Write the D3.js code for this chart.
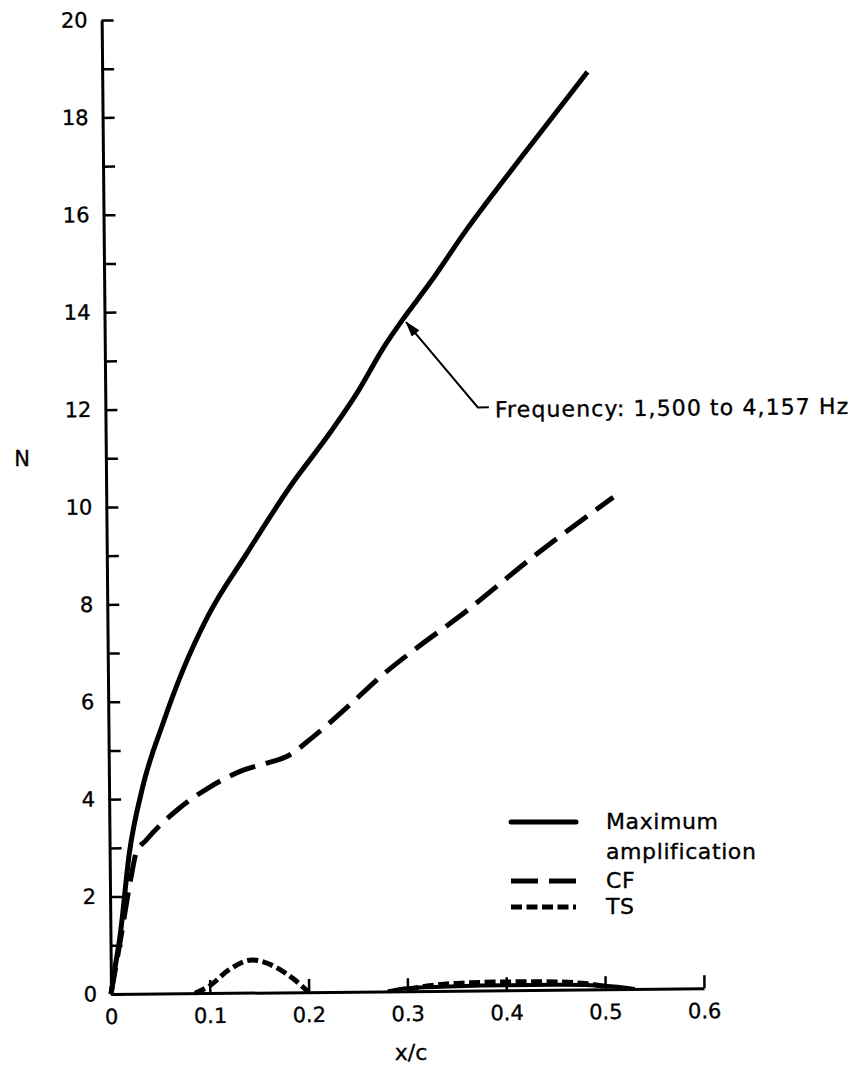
<!DOCTYPE html>
<html>
<head>
<meta charset="utf-8">
<script src="https://cdn.jsdelivr.net/npm/d3@7"></script>
<style>
  body { margin: 0; background: #fff; }
  text { font-family: "DejaVu Sans", sans-serif; fill: #000; stroke: #000; stroke-width: 0.35px; }
</style>
</head>
<body>
<svg id="chart"></svg>
<script>
/* page + plot frame */
const width = 857, height = 1067;
const origin = { x: 111, y: 994 }, plotW = 593, plotH = 974;
const tilt = -0.55; // the scanned figure sits slightly rotated

/* tick values */
const xTicks = [0, 0.1, 0.2, 0.3, 0.4, 0.5, 0.6];
const yTicks = [0, 1, 2, 3, 4, 5, 6, 7, 8, 9, 10, 11, 12, 13, 14, 15, 16, 17, 18, 19, 20];

/* series: [x/c, N] */
const maxAmp = [[0, 0], [0.004, 0.5], [0.0096, 1.17], [0.02, 2.9], [0.034, 4.24], [0.056, 5.59],
  [0.076, 6.64], [0.102, 7.75], [0.142, 9.03], [0.186, 10.38], [0.227, 11.48], [0.255, 12.3],
  [0.283, 13.25], [0.302, 13.8], [0.33, 14.55], [0.367, 15.62], [0.402, 16.55], [0.435, 17.4],
  [0.491, 18.84]];
const cf = [[0, 0], [0.01, 1.1], [0.021, 2.35], [0.027, 2.9], [0.037, 3.15], [0.069, 3.77],
  [0.102, 4.23], [0.136, 4.57], [0.16, 4.71], [0.18, 4.84], [0.207, 5.24], [0.245, 5.9],
  [0.275, 6.45], [0.315, 7.08], [0.354, 7.65], [0.435, 8.95], [0.513, 10.1]];
const tsFirst = [[0.085, 0], [0.1, 0.15], [0.12, 0.48], [0.143, 0.67], [0.165, 0.54], [0.185, 0.27], [0.2, 0]];
const tsSecond = [[0.3, 0.04], [0.32, 0.1], [0.35, 0.15], [0.4, 0.17], [0.45, 0.16], [0.48, 0.12], [0.5, 0.06]];
const lowBand = [[0.28, 0], [0.3, 0.06], [0.35, 0.09], [0.4, 0.1], [0.45, 0.1], [0.5, 0.07], [0.53, 0]];

const legendItems = [
  { label: ["Maximum", "amplification"], dash: null },
  { label: ["CF"], dash: "27,11" },
  { label: ["TS"], dash: "11,4.5" }
];

const svg = d3.select("#chart").attr("width", width).attr("height", height);

const x = d3.scaleLinear().domain([0, 0.6]).range([origin.x, origin.x + plotW]);
const y = d3.scaleLinear().domain([0, 20]).range([origin.y, origin.y - plotH]);

const plot = svg.append("g").attr("transform", `rotate(${tilt}, ${origin.x}, ${origin.y})`);

/* y axis, ticks pointing inward */
const yAxis = plot.append("g").attr("transform", `translate(${origin.x},0)`)
  .call(d3.axisLeft(y).tickValues(yTicks).tickSizeInner(-12).tickSizeOuter(0).tickPadding(14)
    .tickFormat(d => d % 2 ? "" : d));
yAxis.select(".domain").attr("stroke-width", 3);
yAxis.selectAll(".tick line").attr("stroke-width", 2.5);
yAxis.selectAll("text").attr("font-size", 21).attr("font-family", "DejaVu Sans");

/* x axis */
const xAxis = plot.append("g").attr("transform", `translate(0,${origin.y})`)
  .call(d3.axisBottom(x).tickValues(xTicks).tickSizeInner(-13).tickSizeOuter(0).tickPadding(15)
    .tickFormat(d => d === 0 ? "0" : d3.format(".1f")(d)));
xAxis.select(".domain").attr("stroke-width", 3);
xAxis.selectAll(".tick line").attr("stroke-width", 2.5);
xAxis.selectAll("text").attr("font-size", 21).attr("font-family", "DejaVu Sans");

/* curves */
const line = d3.line().x(d => x(d[0])).y(d => y(d[1])).curve(d3.curveMonotoneX);
const series = [
  { data: lowBand, w: 4, dash: null },
  { data: tsFirst, w: 5, dash: "11,4.5" },
  { data: tsSecond, w: 5, dash: "11,4.5" },
  { data: cf, w: 5, dash: "27,11" },
  { data: maxAmp, w: 5, dash: null }
];
plot.selectAll("path.curve").data(series).enter().append("path")
  .attr("class", "curve")
  .attr("d", d => line(d.data))
  .attr("fill", "none").attr("stroke", "#000")
  .attr("stroke-width", d => d.w)
  .attr("stroke-dasharray", d => d.dash);

/* annotation arrow */
svg.append("defs").append("marker")
  .attr("id", "arrow").attr("viewBox", "0 0 16 10")
  .attr("refX", 15).attr("refY", 5)
  .attr("markerWidth", 16).attr("markerHeight", 10)
  .attr("markerUnits", "userSpaceOnUse").attr("orient", "auto")
  .append("path").attr("d", "M0,0L16,5L0,10z").attr("fill", "#000");

const tip = [x(0.302) + 3, y(13.8) + 3];
plot.append("path")
  .attr("d", `M${tip[0] + 82},${tip[1] + 86}H${tip[0] + 71}L${tip[0]},${tip[1]}`)
  .attr("fill", "none").attr("stroke", "#000").attr("stroke-width", 2)
  .attr("marker-end", "url(#arrow)");
plot.append("text")
  .attr("x", tip[0] + 88).attr("y", tip[1] + 96)
  .attr("font-size", 22).attr("letter-spacing", 1.1)
  .text("Frequency: 1,500 to 4,157 Hz");

/* axis titles */
svg.append("text").attr("x", 22).attr("y", 466).attr("text-anchor", "middle")
  .attr("font-size", 21).text("N");
svg.append("text").attr("x", 411).attr("y", 1060).attr("text-anchor", "middle")
  .attr("font-size", 22).text("x/c");

/* legend */
const legendRows = [822, 881, 907];
const legend = svg.append("g");
legendItems.forEach((item, i) => {
  const ly = legendRows[i];
  legend.append("line")
    .attr("x1", 511).attr("x2", 576).attr("y1", ly).attr("y2", ly)
    .attr("stroke", "#000").attr("stroke-width", 5)
    .attr("stroke-linecap", item.dash ? "butt" : "round")
    .attr("stroke-dasharray", item.dash);
  item.label.forEach((t, j) => {
    legend.append("text").attr("x", 606).attr("y", ly + 7 + j * 30)
      .attr("font-size", 22).attr("letter-spacing", 0.6).text(t);
  });
});
</script>
</body>
</html>
